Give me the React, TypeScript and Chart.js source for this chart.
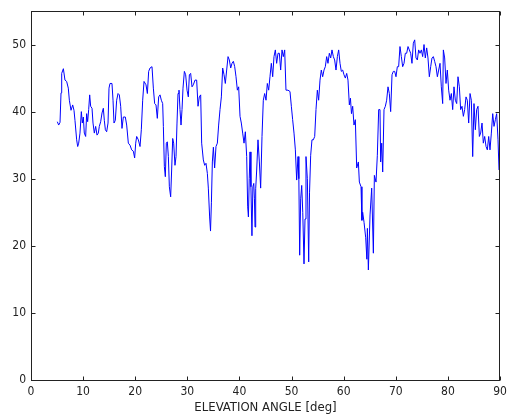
import React, { useEffect, useRef } from "react";
import { Chart, registerables } from "chart.js";

Chart.register(...registerables);

// Elevation angle samples [deg]
const angles: number[] = [
  5.05, 5.31, 5.57, 5.76, 5.89, 6.21, 6.52, 6.84, 7.16, 7.36, 7.68, 8.0, 8.25, 8.44, 8.76, 8.96, 9.15, 9.4, 9.66, 9.85,
  10.04, 10.23, 10.49, 10.68, 10.87, 11.07, 11.26, 11.45, 11.71, 11.9, 12.15, 12.41, 12.67, 12.92, 13.11, 13.37, 13.63, 13.88, 14.07, 14.27,
  14.52, 14.78, 14.97, 15.16, 15.54, 15.74, 15.93, 16.18, 16.44, 16.7, 16.95, 17.21, 17.46, 17.72, 18.1, 18.36, 18.68, 19.0, 19.32, 19.64,
  19.89, 20.09, 20.28, 20.6, 20.92, 21.17, 21.43, 21.69, 22.07, 22.33, 22.58, 22.84, 23.22, 23.48, 23.73, 23.99, 24.24, 24.5, 24.76, 25.01,
  25.27, 25.4, 25.59, 25.78, 25.97, 26.16, 26.36, 26.55, 26.8, 26.99, 27.19, 27.38, 27.63, 27.83, 28.02, 28.21, 28.4, 28.59, 28.79, 28.98,
  29.17, 29.43, 29.68, 29.94, 30.19, 30.39, 30.64, 30.9, 31.15, 31.47, 31.79, 32.05, 32.3, 32.56, 32.75, 33.07, 33.33, 33.58, 33.84, 34.03,
  34.28, 34.45, 34.62, 34.8, 35.0, 35.24, 35.5, 35.76, 36.01, 36.27, 36.53, 36.78, 37.04, 37.29, 37.55, 37.81, 38.06, 38.32, 38.57, 38.83,
  39.09, 39.34, 39.6, 39.85, 40.11, 40.36, 40.62, 40.88, 41.13, 41.39, 41.58, 41.72, 41.88, 42.03, 42.2, 42.4, 42.58, 42.75, 42.88, 42.99,
  43.12, 43.31, 43.56, 43.82, 44.07, 44.33, 44.58, 44.84, 45.1, 45.35, 45.61, 45.86, 46.12, 46.38, 46.63, 46.89, 47.14, 47.4, 47.66, 47.91,
  48.17, 48.42, 48.68, 48.93, 49.32, 49.7, 49.96, 50.21, 50.47, 50.73, 50.98, 51.24, 51.4, 51.56, 51.75, 51.95, 52.15, 52.39, 52.58, 52.77,
  53.03, 53.29, 53.45, 53.67, 53.92, 54.18, 54.44, 54.69, 54.95, 55.2, 55.46, 55.71, 55.97, 56.23, 56.48, 56.74, 56.99, 57.25, 57.51, 57.76,
  58.02, 58.27, 58.53, 58.79, 59.04, 59.3, 59.55, 59.81, 60.06, 60.32, 60.58, 60.83, 61.09, 61.3, 61.5, 61.73, 61.98, 62.24, 62.5, 62.82,
  63.01, 63.33, 63.5, 63.65, 63.91, 64.23, 64.45, 64.55, 64.74, 65.06, 65.38, 65.7, 65.89, 66.21, 66.46, 66.72, 66.97, 67.1, 67.3, 67.49,
  67.74, 68.0, 68.25, 68.51, 68.76, 69.02, 69.28, 69.53, 69.79, 70.04, 70.3, 70.55, 70.81, 71.07, 71.32, 71.58, 71.83, 72.09, 72.35, 72.6,
  72.86, 73.11, 73.37, 73.63, 73.88, 74.14, 74.39, 74.65, 74.91, 75.16, 75.42, 75.67, 75.93, 76.18, 76.44, 76.7, 76.95, 77.21, 77.46, 77.72,
  77.98, 78.23, 78.49, 78.74, 79.0, 79.13, 79.38, 79.64, 79.89, 80.15, 80.41, 80.66, 80.92, 81.17, 81.43, 81.69, 81.94, 82.2, 82.45, 82.71,
  82.97, 83.22, 83.48, 83.73, 83.99, 84.25, 84.5, 84.76, 85.01, 85.27, 85.52, 85.78, 86.04, 86.29, 86.55, 86.8, 87.06, 87.32, 87.57, 87.83,
  88.08, 88.34, 88.6, 88.85, 89.11, 89.36, 89.62, 89.81, 89.94,
];

// Measured level at each angle
const levels: number[] = [
  38.5, 38.0, 38.4, 42.8, 45.7, 46.4, 44.7, 44.5, 43.5, 41.7, 40.2, 41.0, 40.2, 38.7, 35.8, 34.8, 35.3, 36.8, 40.0, 38.3,
  39.2, 36.8, 36.3, 39.7, 38.5, 40.3, 42.5, 40.8, 40.5, 38.3, 36.8, 37.8, 36.5, 36.8, 37.8, 38.5, 39.8, 40.5, 38.7, 37.3,
  37.0, 38.3, 43.5, 44.2, 44.2, 41.7, 38.3, 38.7, 41.7, 42.7, 42.5, 40.8, 37.5, 39.2, 39.2, 38.0, 35.3, 35.0, 34.3, 34.1,
  33.1, 35.3, 36.3, 35.8, 34.8, 37.3, 41.7, 44.5, 44.0, 42.7, 46.0, 46.5, 46.7, 43.5, 41.2, 41.0, 39.0, 42.2, 42.5, 41.7,
  41.2, 37.8, 31.8, 30.3, 35.3, 35.5, 33.3, 28.8, 27.3, 31.3, 36.0, 35.3, 32.0, 33.3, 38.3, 42.7, 43.2, 40.3, 38.0, 40.3,
  43.5, 46.0, 45.5, 43.2, 42.2, 45.5, 45.7, 43.7, 44.0, 44.7, 44.7, 40.8, 42.2, 42.5, 35.3, 32.8, 32.0, 32.3, 30.8, 28.6,
  24.3, 22.2, 26.5, 32.5, 34.7, 31.6, 34.8, 35.3, 38.0, 40.3, 42.2, 46.5, 45.5, 44.2, 46.2, 48.2, 47.7, 46.5, 47.2, 47.5,
  46.7, 45.2, 43.2, 43.7, 39.3, 38.3, 36.8, 35.3, 37.0, 33.3, 25.8, 24.3, 30.0, 34.0, 28.8, 21.5, 28.8, 29.3, 27.0, 22.8,
  28.5, 31.3, 35.8, 32.5, 28.6, 36.3, 41.7, 42.7, 41.7, 44.2, 43.2, 45.2, 47.2, 45.2, 48.2, 49.2, 47.2, 48.7, 48.7, 46.2,
  49.2, 48.2, 49.2, 43.2, 43.2, 43.0, 40.8, 38.8, 36.8, 34.3, 29.8, 33.3, 30.0, 18.6, 27.0, 29.0, 25.0, 17.3, 24.0, 33.3,
  30.0, 17.6, 28.0, 33.5, 35.8, 35.8, 36.3, 40.3, 43.2, 41.7, 44.7, 46.2, 45.2, 46.2, 46.7, 48.2, 47.2, 48.7, 48.0, 49.2,
  48.2, 47.7, 46.2, 48.2, 49.2, 47.2, 46.0, 46.2, 45.5, 45.0, 45.7, 44.7, 41.0, 42.0, 39.7, 40.8, 38.0, 38.8, 31.6, 32.5,
  29.5, 28.8, 23.8, 25.0, 23.5, 21.2, 18.0, 22.6, 16.4, 24.6, 28.6, 18.9, 30.5, 29.5, 33.5, 40.3, 40.3, 32.5, 35.3, 31.0,
  40.3, 40.8, 41.7, 43.7, 42.7, 40.0, 45.5, 46.0, 46.0, 45.2, 46.7, 46.7, 49.7, 48.2, 46.7, 47.2, 48.7, 48.7, 49.7, 49.2,
  48.7, 47.2, 50.2, 50.7, 48.0, 47.7, 49.2, 48.7, 49.2, 48.2, 50.0, 48.0, 49.5, 48.0, 45.2, 46.7, 48.0, 48.2, 47.5, 46.7,
  45.2, 46.2, 47.2, 43.7, 41.2, 49.2, 48.0, 44.2, 46.2, 43.2, 41.7, 42.7, 40.3, 43.7, 41.7, 41.2, 45.2, 43.7, 40.3, 40.8,
  39.3, 40.3, 42.2, 41.7, 38.3, 42.7, 41.7, 33.3, 41.2, 37.3, 40.3, 40.8, 36.3, 36.8, 38.3, 35.3, 36.3, 34.8, 34.3, 36.3,
  34.3, 36.8, 39.7, 37.8, 38.8, 39.7, 35.8, 31.3, 31.5,
];

const xTicks: number[] = [0, 10, 20, 30, 40, 50, 60, 70, 80, 90];
const yTicks: number[] = [0, 10, 20, 30, 40, 50];
const xTitle = "ELEVATION ANGLE [deg]";

const FONT = '"Liberation Sans Narrow", "DejaVu Sans Condensed", "Liberation Sans", sans-serif';
const INK = "#222222";

// Box frame with inward tick marks on all four sides
const framePlugin = {
  id: "frame",
  afterDatasetsDraw(chart: any) {
    const { ctx, chartArea: a, scales } = chart;
    const tl = 4;
    const l = Math.round(a.left) + 0.5;
    const r = Math.round(a.right) - 0.5;
    const t = Math.round(a.top) + 0.5;
    const b = Math.round(a.bottom) + 0.5;
    ctx.save();
    ctx.strokeStyle = INK;
    ctx.lineWidth = 1;
    ctx.strokeRect(l, t, r - l, b - t);
    ctx.beginPath();
    for (const v of xTicks) {
      const px = Math.round(scales.x.getPixelForValue(v)) + 0.5;
      ctx.moveTo(px, b);
      ctx.lineTo(px, b - tl);
      ctx.moveTo(px, t);
      ctx.lineTo(px, t + tl);
    }
    for (const v of yTicks) {
      const py = Math.round(scales.y.getPixelForValue(v)) + 0.5;
      ctx.moveTo(l, py);
      ctx.lineTo(l + tl, py);
      ctx.moveTo(r, py);
      ctx.lineTo(r - tl, py);
    }
    ctx.stroke();
    ctx.restore();
  },
};

export default function App() {
  const ref = useRef<HTMLCanvasElement | null>(null);

  useEffect(() => {
    if (!ref.current) return;
    const points = angles.map((a, i) => ({ x: a, y: levels[i] }));
    const chart = new Chart(ref.current, {
      type: "line",
      data: {
        datasets: [
          {
            data: points,
            borderColor: "#0000ff",
            borderWidth: 1,
            pointRadius: 0,
            tension: 0,
            fill: false,
          },
        ],
      },
      options: {
        animation: false,
        responsive: false,
        maintainAspectRatio: false,
        layout: { padding: { top: 11, right: 9, left: 0, bottom: 0 } },
        plugins: { legend: { display: false }, tooltip: { enabled: false } },
        scales: {
          x: {
            type: "linear",
            min: 0,
            max: 90,
            grid: { display: false, drawTicks: false },
            border: { display: false },
            afterBuildTicks: (s: any) => {
              s.ticks = xTicks.map((v) => ({ value: v }));
            },
            afterFit: (s: any) => {
              s.height = 38;
              s.paddingLeft = 0;
              s.paddingRight = 0;
            },
            ticks: { color: INK, padding: 5, maxRotation: 0, font: { family: FONT, size: 12 } },
            title: {
              display: true,
              text: xTitle,
              color: INK,
              padding: { top: 0, bottom: 3 },
              font: { family: FONT, size: 13 },
            },
          },
          y: {
            type: "linear",
            min: 0,
            max: 55,
            grid: { display: false, drawTicks: false },
            border: { display: false },
            afterBuildTicks: (s: any) => {
              s.ticks = yTicks.map((v) => ({ value: v }));
            },
            afterFit: (s: any) => {
              s.width = 31;
              s.paddingTop = 0;
              s.paddingBottom = 0;
            },
            ticks: { color: INK, padding: 5, font: { family: FONT, size: 12 } },
          },
        },
      },
      plugins: [framePlugin],
    });
    return () => chart.destroy();
  }, []);

  return (
    <div style={{ position: "absolute", left: 0, top: 0, width: 509, height: 418, background: "#fff" }}>
      <canvas ref={ref} width={509} height={418} style={{ display: "block" }} />
    </div>
  );
}
